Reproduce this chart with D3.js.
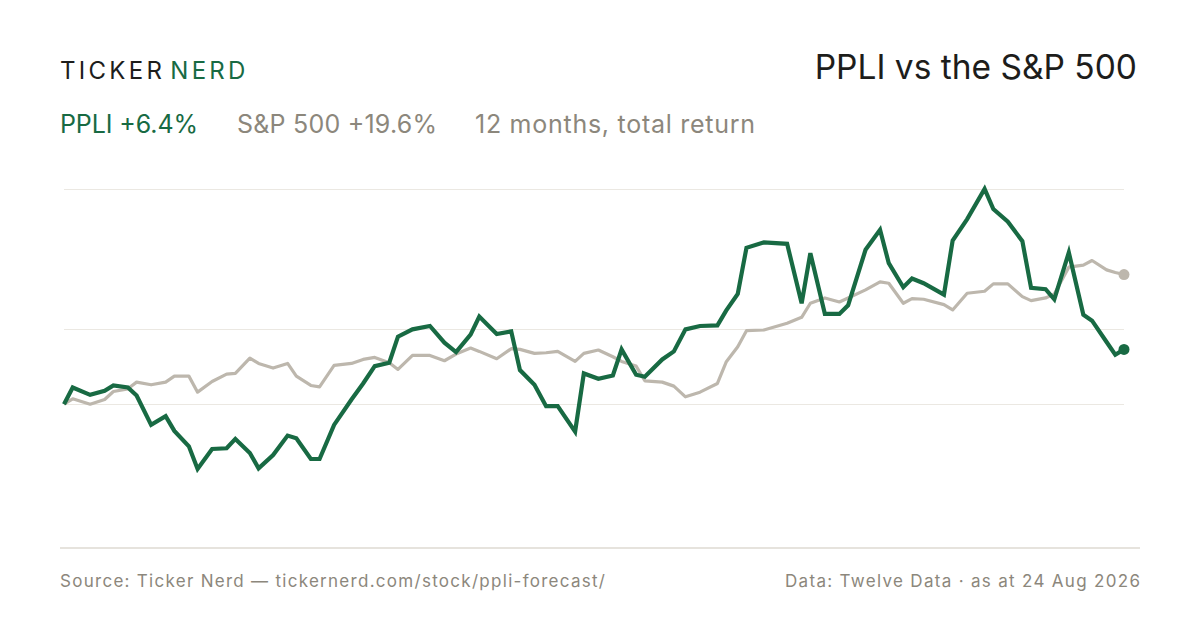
<!DOCTYPE html>
<html>
<head>
<meta charset="utf-8">
<script src="https://cdn.jsdelivr.net/npm/d3@7"></script>
<style>
  html, body { margin: 0; padding: 0; background: #fff; }
  svg { display: block; font-family: Inter, "Noto Sans", sans-serif; }
</style>
</head>
<body>
<div id="chart"></div>
<script>
// days since 24 Aug 2025, shared by both series
const dayOffsets = [0, 3, 9, 14, 17, 22, 25, 30, 35, 38, 43, 46, 51, 56, 59, 64, 67, 72, 77, 80,
  85, 88, 93, 99, 103, 107, 112, 115, 120, 126, 131, 135, 140, 143, 149, 154, 157, 162, 166, 170,
  176, 179, 184, 189, 192, 197, 200, 206, 210, 214, 219, 225, 228, 232, 235, 241, 249, 254, 257, 262,
  267, 270, 276, 281, 284, 289, 292, 296, 303, 306, 311, 317, 320, 325, 330, 333, 338, 341, 346, 351,
  354, 359, 362, 365];

// cumulative return, %
const ppliValues = [0, 2.5, 1.4, 2.0, 2.8, 2.5, 1.3, -3.1, -1.8, -4.0, -6.3, -9.7, -6.7, -6.6, -5.2, -7.3, -9.6, -7.6, -4.7, -5.1,
  -8.2, -8.2, -3.1, 0.7, 3.1, 5.7, 6.2, 10.1, 11.2, 11.7, 9.2, 7.8, 10.4, 13.1, 10.5, 10.9, 5.1, 2.9, -0.3, -0.3,
  -4.1, 4.6, 3.8, 4.3, 8.2, 4.4, 4.1, 6.7, 7.9, 11.2, 11.7, 11.8, 14.0, 16.5, 23.4, 24.2, 24.0, 15.1, 22.6, 13.5,
  13.5, 14.8, 23.1, 26.1, 21.1, 17.5, 18.8, 18.1, 16.4, 24.5, 27.7, 32.2, 29.2, 27.3, 24.4, 17.4, 17.2, 15.7, 22.7, 13.4,
  12.5, 9.3, 7.4, 8.2];

const spxValues = [0, 0.8, 0, 0.7, 1.9, 2.3, 3.3, 2.9, 3.3, 4.2, 4.2, 1.8, 3.4, 4.5, 4.6, 6.9, 6.1, 5.4, 6.1, 4.2,
  2.8, 2.6, 5.8, 6.1, 6.7, 7.0, 6.2, 5.2, 7.3, 7.3, 6.5, 7.5, 8.4, 7.9, 6.8, 8.3, 8.2, 7.6, 7.7, 7.9,
  6.4, 7.6, 8.1, 7.1, 6.4, 5.7, 3.5, 3.3, 2.7, 1.1, 1.8, 3.1, 6.3, 8.6, 11.0, 11.1, 12.1, 13.0, 15.1, 15.9,
  15.3, 15.9, 17.1, 18.3, 18.1, 15.1, 15.8, 15.7, 14.9, 14.1, 16.6, 16.9, 18.0, 18.0, 16.1, 15.5, 15.9, 16.5, 20.5, 20.8,
  21.5, 20.1, 19.7, 19.4];

const seriesLabels = ["PPLI +6.4%", "S&P 500 +19.6%", "12 months, total return"];

const width = 1200;
const height = 630;
const green = "#186a43";
const grey = "#bdb7ad";
const textGrey = "#8c877c";

const startDate = new Date(2025, 7, 24);
const dates = dayOffsets.map(d => d3.timeDay.offset(startDate, d));
const ppli = dates.map((date, i) => ({ date, value: ppliValues[i] }));
const spx = dates.map((date, i) => ({ date, value: spxValues[i] }));

const svg = d3.select("#chart")
  .append("svg")
  .attr("width", width)
  .attr("height", height);

// header
const logo = svg.append("text")
  .attr("x", 60)
  .attr("y", 79)
  .attr("font-size", 24)
  .attr("letter-spacing", 3.3);
logo.append("tspan").attr("fill", "#1d1d1b").text("TICKER");
logo.append("tspan").attr("fill", green).attr("dx", 5).text("NERD");

svg.append("text")
  .attr("x", 1137)
  .attr("y", 79)
  .attr("text-anchor", "end")
  .attr("font-size", 33.5)
  .attr("fill", "#1d1d1b")
  .text("PPLI vs the S&P 500");

// legend row: widths follow the reference's wider typeface
const legendX = [60, 237, 475];
const legendW = [138, 200, 280];
const legendColors = [green, textGrey, textGrey];
svg.append("g")
  .selectAll("text")
  .data(seriesLabels)
  .join("text")
  .attr("x", (d, i) => legendX[i])
  .attr("y", 133)
  .attr("font-size", 25)
  .attr("textLength", (d, i) => legendW[i])
  .attr("lengthAdjust", "spacing")
  .attr("fill", (d, i) => legendColors[i])
  .text(d => d);

// scales
const x = d3.scaleTime()
  .domain(d3.extent(dates))
  .range([64, 1124]);

const allValues = ppliValues.concat(spxValues);
const y = d3.scaleLinear()
  .domain(d3.extent(allValues))
  .range([469, 189]);

const [yMin, yMax] = y.domain();
const gridValues = [yMax, (yMin + yMax) / 2, 0];

svg.append("g")
  .selectAll("line")
  .data(gridValues)
  .join("line")
  .attr("x1", x.range()[0])
  .attr("x2", x.range()[1])
  .attr("y1", d => Math.round(y(d)) + 0.5)
  .attr("y2", d => Math.round(y(d)) + 0.5)
  .attr("stroke", "#ebe8e2")
  .attr("stroke-width", 1.2);

const line = d3.line()
  .x(d => x(d.date))
  .y(d => y(d.value));

svg.append("path")
  .datum(spx)
  .attr("d", line)
  .attr("fill", "none")
  .attr("stroke", grey)
  .attr("stroke-width", 3.2)
  .attr("stroke-linejoin", "round");

svg.append("path")
  .datum(ppli)
  .attr("d", line)
  .attr("fill", "none")
  .attr("stroke", green)
  .attr("stroke-width", 4.2)
  .attr("stroke-linejoin", "miter");

svg.append("circle")
  .attr("cx", x(spx[spx.length - 1].date))
  .attr("cy", y(spx[spx.length - 1].value))
  .attr("r", 5.5)
  .attr("fill", grey);

svg.append("circle")
  .attr("cx", x(ppli[ppli.length - 1].date))
  .attr("cy", y(ppli[ppli.length - 1].value))
  .attr("r", 5.5)
  .attr("fill", green);

// footer
svg.append("line")
  .attr("x1", 60)
  .attr("x2", 1140)
  .attr("y1", 548)
  .attr("y2", 548)
  .attr("stroke", "#dedad2")
  .attr("stroke-width", 1.5);

svg.append("text")
  .attr("x", 60)
  .attr("y", 587)
  .attr("font-size", 17)
  .attr("textLength", 545)
  .attr("lengthAdjust", "spacing")
  .attr("fill", textGrey)
  .text("Source: Ticker Nerd — tickernerd.com/stock/ppli-forecast/");

svg.append("text")
  .attr("x", 785)
  .attr("y", 587)
  .attr("font-size", 17)
  .attr("textLength", 355)
  .attr("lengthAdjust", "spacing")
  .attr("fill", textGrey)
  .text("Data: Twelve Data · as at 24 Aug 2026");
</script>
</body>
</html>
